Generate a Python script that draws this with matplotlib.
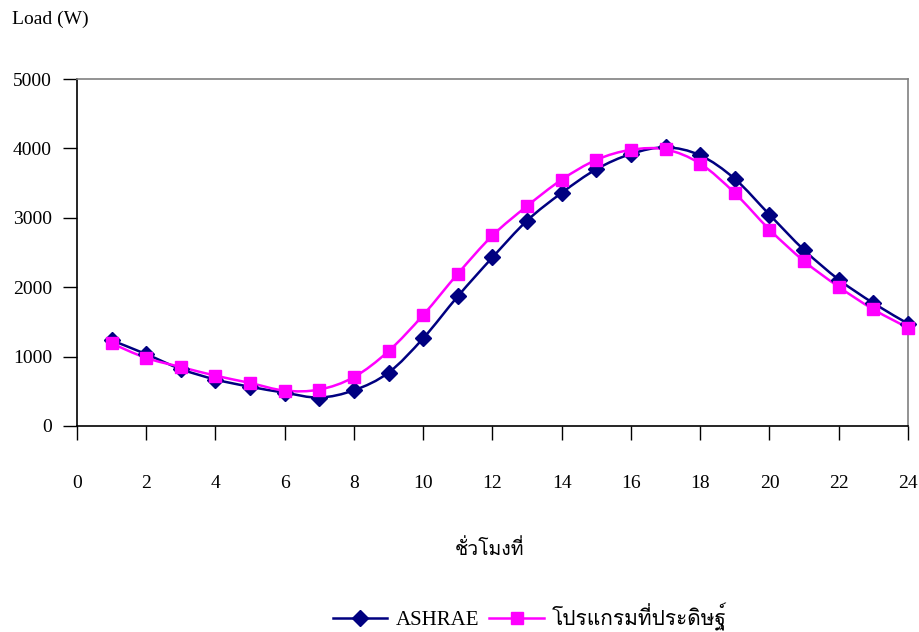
import numpy as np
import matplotlib
matplotlib.use("Agg")
import matplotlib.pyplot as plt
from matplotlib import font_manager
from matplotlib.ft2font import FT2Font
from matplotlib.path import Path
from matplotlib.patches import PathPatch
from matplotlib.lines import Line2D

hours = list(range(1, 25))
ashrae = [1235, 1035, 820, 670, 565, 480, 410, 515, 770, 1265, 1870, 2430,
          2960, 3360, 3700, 3920, 4015, 3900, 3560, 3045, 2535, 2110, 1770, 1475]
program = [1190, 980, 850, 725, 620, 510, 525, 705, 1080, 1600, 2195, 2745,
           3170, 3550, 3835, 3980, 3985, 3780, 3355, 2830, 2375, 2005, 1680, 1415]

series_names = ["ASHRAE", "โปรแกรมที่ประดิษฐ์"]
x_label = "ชั่วโมงที่"
y_label = "Load (W)"
x_ticks = list(range(0, 25, 2))
y_ticks = list(range(0, 5001, 1000))


def thai_family():
    for f in font_manager.fontManager.ttflist:
        try:
            if 0x0E42 in FT2Font(f.fname).get_charmap():
                return f.name
        except Exception:
            pass
    return None


serif = ["Liberation Serif", "DejaVu Serif"]
th = thai_family()
fams = serif + ([th] if th else [])
plt.rcParams["font.family"] = fams


def smooth_path(xs, ys):
    # Catmull-Rom style Bezier through the points
    xs = np.asarray(xs, float)
    ys = np.asarray(ys, float)
    pts = np.column_stack([xs, ys])
    n = len(pts)
    verts = [pts[0]]
    codes = [Path.MOVETO]
    for i in range(n - 1):
        p0 = pts[i - 1] if i > 0 else pts[i]
        p1 = pts[i]
        p2 = pts[i + 1]
        p3 = pts[i + 2] if i + 2 < n else pts[i + 1]
        c1 = p1 + (p2 - p0) / 6.0
        c2 = p2 - (p3 - p1) / 6.0
        verts += [c1, c2, p2]
        codes += [Path.CURVE4] * 3
    return Path(verts, codes)


fig = plt.figure(figsize=(9.2, 6.32), dpi=100)
W, H = 920, 632
ax = fig.add_axes([77 / W, 1 - 426 / H, (908 - 77) / W, (426 - 79) / H])
ax.set_xlim(0, 24)
ax.set_ylim(0, 5000)

navy = "#000080"
magenta = "#FF00FF"

ax.add_patch(PathPatch(smooth_path(hours, ashrae), fill=False, edgecolor=navy,
                       lw=1.8, zorder=3))
ax.add_patch(PathPatch(smooth_path(hours, program), fill=False, edgecolor=magenta,
                       lw=1.8, zorder=4))
ax.plot(hours, ashrae, ls="none", marker="D", ms=8, color=navy, zorder=5,
        clip_on=False)
ax.plot(hours, program, ls="none", marker="s", ms=9, color=magenta, zorder=6,
        clip_on=False)

ax.set_xticks(x_ticks)
ax.set_yticks(y_ticks)
ax.set_xticklabels([str(v) for v in x_ticks], fontsize=14)
ax.set_yticklabels([str(v) for v in y_ticks], fontsize=14)
ax.tick_params(axis="x", direction="out", length=10, width=1, pad=25)
ax.tick_params(axis="y", direction="out", length=10, width=1, pad=8)

for s in ["left", "bottom"]:
    ax.spines[s].set_color("black")
    ax.spines[s].set_linewidth(1.2)
for s in ["top", "right"]:
    ax.spines[s].set_color("#808080")
    ax.spines[s].set_linewidth(1.2)

fig.text(12 / W, 1 - 19 / H, y_label, fontsize=14, ha="left", va="center")
fig.text(490 / W, 1 - 549 / H, x_label, fontsize=14, ha="center", va="center")

handles = [
    Line2D([], [], color=navy, lw=1.8, marker="D", ms=8),
    Line2D([], [], color=magenta, lw=1.8, marker="s", ms=8),
]
fig.legend(handles, series_names, loc="center", bbox_to_anchor=(530 / W, 1 - 617 / H),
           ncol=2, frameon=False, fontsize=15, handlelength=2.6, columnspacing=0.5,
           handletextpad=0.4)

fig.savefig("out.png", dpi=100)
